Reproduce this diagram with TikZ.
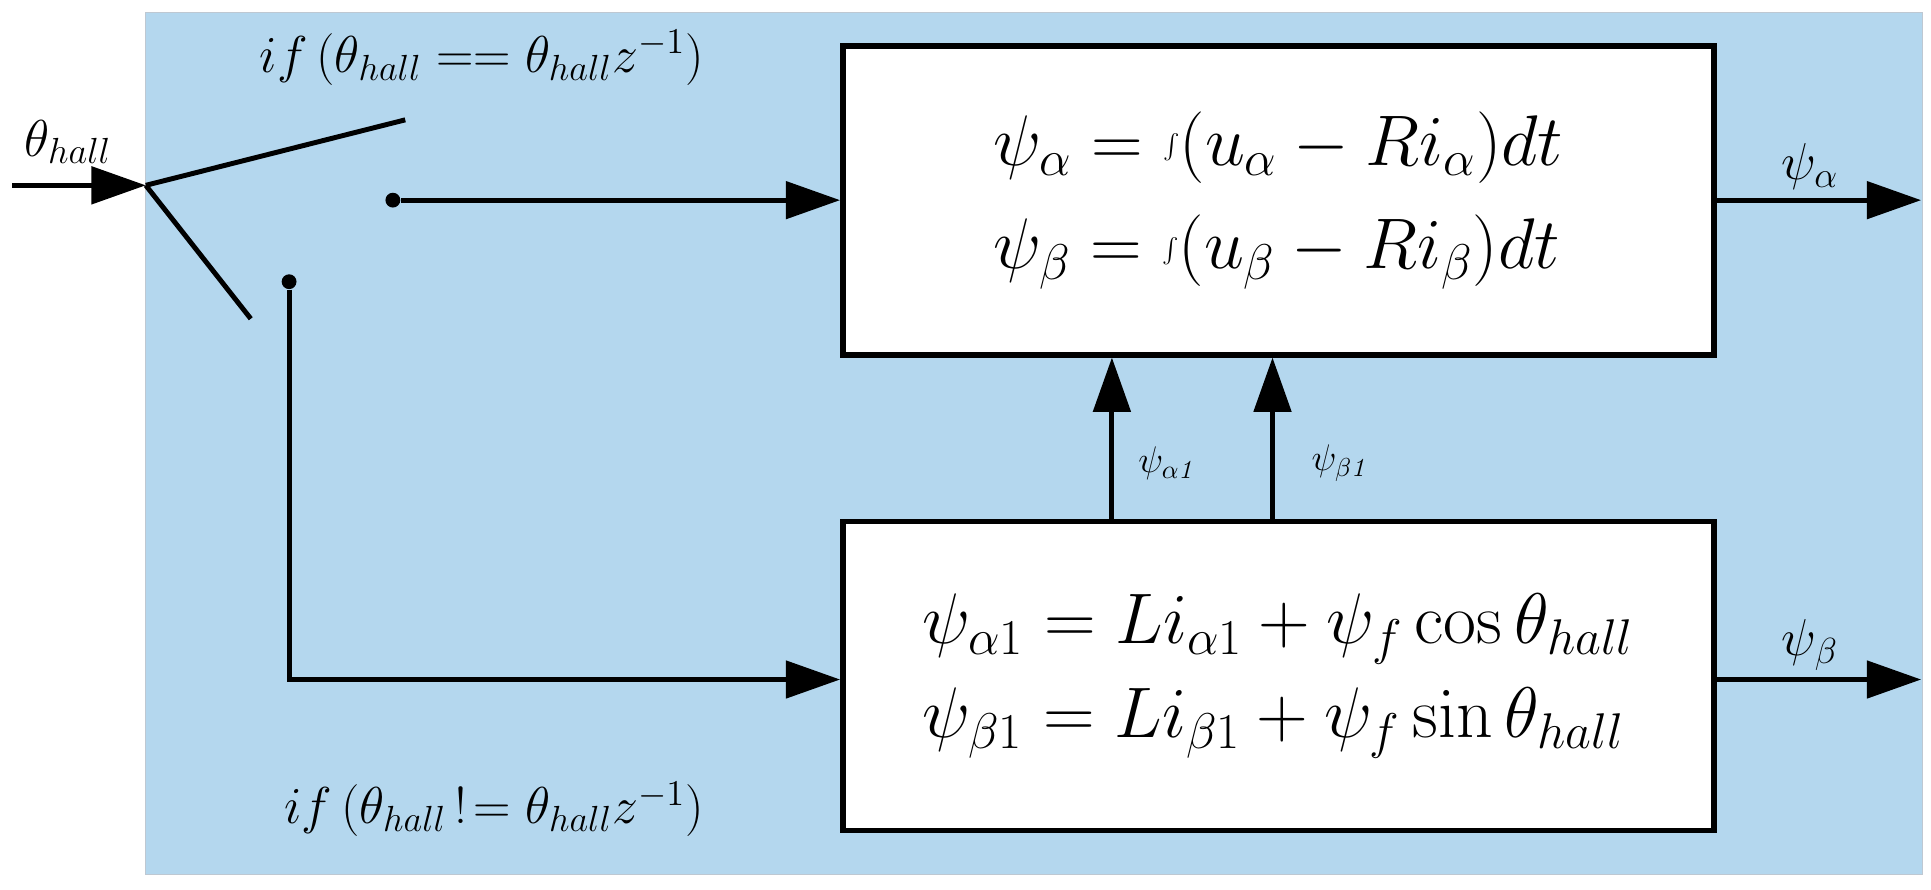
\RequirePackage{fix-cm}
\documentclass[tikz,border=0pt]{standalone}
\usetikzlibrary{arrows.meta}
\begin{document}
\begin{tikzpicture}[x=0.5pt,y=-0.5pt,
  ln/.style={line width=2pt},
  arr/.style={ln,-{Triangle[length=22pt,width=15pt]}},
  box/.style={draw,line width=2.2pt,fill=white,minimum width=352.5pt,minimum height=125pt,anchor=north west,inner sep=0pt},
  big/.style={font=\fontsize{29}{36}\selectfont},
  mid/.style={font=\fontsize{21}{24}\selectfont},
  sm/.style={font=\fontsize{15}{17}\selectfont},
  dot/.style={circle,fill,inner sep=0pt,minimum size=6pt}]
\useasboundingbox (0,0) rectangle (1563,720);
\fill[fill={rgb,255:red,180;green,215;blue,238},draw={rgb,255:red,190;green,200;blue,210}] (118,10) rectangle (1556,708);
\node[box] (top) at (680,35) {};
\node[box] (bot) at (680,420) {};
\node[big,align=left] at (top.center) {$\psi_\alpha=\int(u_\alpha-Ri_\alpha)dt$\\[6pt]$\psi_\beta=\int(u_\beta-Ri_\beta)dt$};
\node[big,align=left] at (bot.center) {$\psi_{\alpha1}=Li_{\alpha1}+\psi_f\cos\theta_{hall}$\\[2pt]$\psi_{\beta1}=Li_{\beta1}+\psi_f\sin\theta_{hall}$};
\coordinate (in) at (10,150);
\coordinate (piv) at (118,150);
\coordinate (l1) at (328,97);
\coordinate (l2) at (203,258);
\draw[arr] (in) -- (piv);
\draw[ln] (piv) -- (l1);
\draw[ln] (piv) -- (l2);
\node[dot] (d1) at (318,162) {};
\node[dot] (d2) at (234,228) {};
\draw[arr] (d1) -- (d1 -| top.west);
\coordinate (c2) at (234,550);
\draw[arr] (d2) -- (c2) -- (c2 -| bot.west);
\node[mid] (th) at (55,115) {$\theta_{hall}$};
\node[mid] at (390,47) {$if\,(\theta_{hall}==\theta_{hall}z^{-1})$};
\node[mid] at (400,655) {$if\,(\theta_{hall}\,!\!=\theta_{hall}z^{-1})$};
\coordinate (ua) at (900,420);
\coordinate (ub) at (1030,420);
\draw[arr] (ua) -- (ua |- top.south);
\draw[arr] (ub) -- (ub |- top.south);
\node[sm] at (945,375) {$\psi_{\alpha\mathit{1}}$};
\node[sm] at (1085,375) {$\psi_{\beta\mathit{1}}$};
\coordinate (o1) at (1555,162);
\coordinate (o2) at (1555,550);
\draw[arr] (o1 -| top.east) -- (o1);
\draw[arr] (o2 -| bot.east) -- (o2);
\node[mid] at (1465,135) {$\psi_\alpha$};
\node[mid] at (1465,522) {$\psi_\beta$};
\end{tikzpicture}
\end{document}
